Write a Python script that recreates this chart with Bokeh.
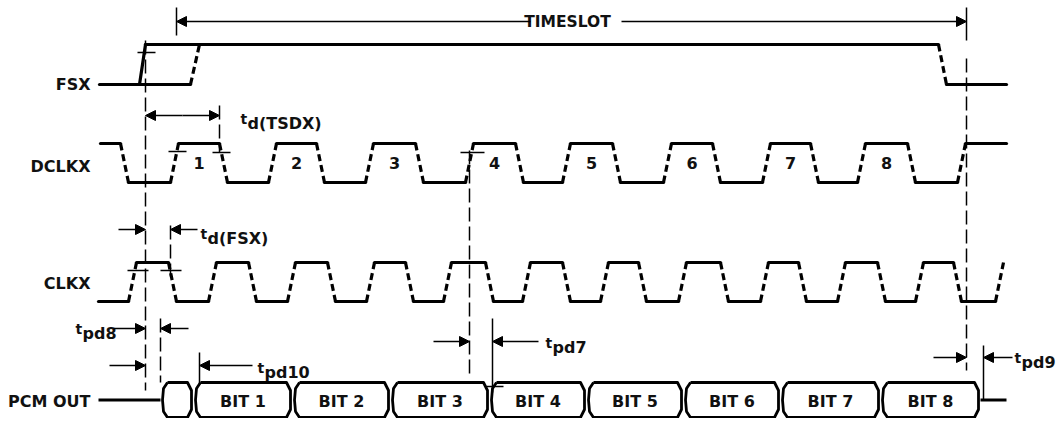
from bokeh.plotting import figure
from bokeh.models import Range1d, Arrow, NormalHead
from bokeh.embed import file_html
from bokeh.resources import INLINE
from bokeh.core.properties import value

# ---------------- data (time axis in diagram units) ----------------
signal_names = ["FSX", "DCLKX", "CLKX", "PCM OUT"]

fsx_rise_early = 139      # solid (earliest) FSX rising edge
fsx_rise_late = 190       # dashed (latest) FSX rising edge
fsx_fall = 938

dclkx_fall = [120, 219, 316, 415, 515, 612, 712, 810, 907]
dclkx_rise = [170, 268, 365, 465, 562, 663, 762, 857, 957]
dclkx_labels = ["1", "2", "3", "4", "5", "6", "7", "8"]

clkx_rise = [128, 208, 287, 366, 443, 522, 600, 678, 760, 837, 915, 995]
clkx_fall = [168, 248, 327, 405, 485, 562, 638, 720, 798, 877, 953]

pcm_bounds = [160, 193, 292, 390, 489, 586, 683, 780, 880, 980]
pcm_labels = ["", "BIT 1", "BIT 2", "BIT 3", "BIT 4", "BIT 5", "BIT 6", "BIT 7", "BIT 8"]

timeslot = [176, 966]
timing_params = ["d(TSDX)", "d(FSX)", "pd8", "pd10", "pd7", "pd9"]

# ---------------- layout constants ----------------
W, H = 1062, 418
T0, T1 = 98, 1006
HI = {"FSX": 44, "DCLKX": 143, "CLKX": 262, "PCM OUT": 382}
LO = {"FSX": 84, "DCLKX": 182, "CLKX": 301, "PCM OUT": 417}
LABEL_Y = {"FSX": 84, "DCLKX": 166, "CLKX": 283, "PCM OUT": 401}
TR = 8  # transition width
FONT = value("DejaVu Sans")
INK = "#111111"

p = figure(width=W, height=H, x_range=Range1d(0, W), y_range=Range1d(H, 0),
           output_backend="svg", toolbar_location=None, min_border=0,
           x_axis_type=None, y_axis_type=None)
p.outline_line_color = None
p.background_fill_color = "white"
p.border_fill_color = "white"
p.xgrid.visible = False
p.ygrid.visible = False

solid_x, solid_y, dash_x, dash_y = [], [], [], []


def waveform(name, start_x, start_high, edges, end_x):
    hi, lo = HI[name], LO[name]
    x, lvl = start_x, (hi if start_high else lo)
    for t, to_high in edges:
        solid_x.append([x, t]); solid_y.append([lvl, lvl])
        new = hi if to_high else lo
        dash_x.append([t, t + TR]); dash_y.append([lvl, new])
        x, lvl = t + TR, new
    if end_x is not None and end_x > x:
        solid_x.append([x, end_x]); solid_y.append([lvl, lvl])


# FSX
solid_x.append([T0 + 1, fsx_rise_late]); solid_y.append([LO["FSX"], LO["FSX"]])
solid_x.append([fsx_rise_early, fsx_rise_early + 6]); solid_y.append([LO["FSX"], HI["FSX"]])
dash_x.append([fsx_rise_late, fsx_rise_late + 9]); dash_y.append([LO["FSX"], HI["FSX"]])
solid_x.append([fsx_rise_early + 6, fsx_fall]); solid_y.append([HI["FSX"], HI["FSX"]])
dash_x.append([fsx_fall, fsx_fall + TR]); dash_y.append([HI["FSX"], LO["FSX"]])
solid_x.append([fsx_fall + TR, T1]); solid_y.append([LO["FSX"], LO["FSX"]])

# DCLKX
ed = sorted([(t, False) for t in dclkx_fall] + [(t, True) for t in dclkx_rise])
waveform("DCLKX", T0 + 2, True, ed, T1)
# CLKX
ec = sorted([(t, True) for t in clkx_rise] + [(t, False) for t in clkx_fall])
waveform("CLKX", T0, False, ec, None)

p.multi_line(solid_x, solid_y, line_color="black", line_width=3.2, line_join="round", line_cap="round")
p.multi_line(dash_x, dash_y, line_color="black", line_width=3.2, line_dash="7 4")

# PCM OUT bus
pm = (HI["PCM OUT"] + LO["PCM OUT"]) / 2
p.multi_line([[T0, pcm_bounds[0]], [pcm_bounds[-1], T1]], [[pm, pm], [pm, pm]],
             line_color="black", line_width=3)
cell_x, cell_y = [], []
hi, lo = HI["PCM OUT"], LO["PCM OUT"]
for a, b in zip(pcm_bounds[:-1], pcm_bounds[1:]):
    a2, b2 = a + 2, b - 2
    cell_x.append([a2 + 5, b2 - 4, b2, b2, b2 - 4, a2 + 5, a2 + 1, a2, a2 + 1, a2 + 5])
    cell_y.append([hi, hi, hi + 8, lo - 8, lo, lo, lo - 6, pm, hi + 6, hi])
p.multi_line(cell_x, cell_y, line_color="black", line_width=2.8, line_join="round")

# labels
p.text(x=[90] * 4, y=[LABEL_Y[n] for n in signal_names], text=signal_names,
       text_font=FONT, text_font_style="bold", text_font_size="16px",
       text_align="right", text_baseline="middle", text_color=INK)
num_x = [(r + f) / 2 + TR / 2 for r, f in zip(dclkx_rise[:8], dclkx_fall[1:])]
p.text(x=num_x, y=[162] * 8, text=dclkx_labels, text_font=FONT, text_font_style="bold",
       text_font_size="16px", text_align="center", text_baseline="middle", text_color=INK)
bit_x = [(a + b) / 2 for a, b in zip(pcm_bounds[:-1], pcm_bounds[1:])]
p.text(x=bit_x[1:], y=[pm + 1] * 8, text=pcm_labels[1:], text_font=FONT, text_font_style="bold",
       text_font_size="16px", text_align="center", text_baseline="middle", text_color=INK)
p.text(x=[(timeslot[0] + timeslot[1]) / 2 - 4], y=[21], text=["TIMESLOT"], text_font=FONT,
       text_font_style="bold", text_font_size="15.5px", text_align="center",
       text_baseline="middle", text_color=INK)

# timing parameter labels: "t" + subscript
t_pos = [(240, 123), (200, 238), (75, 333), (257, 372), (545, 347), (1014, 362)]
p.text(x=[x for x, _ in t_pos], y=[y - 5 for _, y in t_pos], text=["t"] * 6, text_font=FONT,
       text_font_style="bold", text_font_size="14px", text_align="left",
       text_baseline="alphabetic", text_color=INK)
p.text(x=[x + 7 for x, _ in t_pos], y=[y for _, y in t_pos], text=timing_params, text_font=FONT,
       text_font_style="bold", text_font_size="16px", text_align="left",
       text_baseline="alphabetic", text_color=INK)

# vertical reference lines
vs = [(timeslot[0], 7, 35), (timeslot[1], 7, 40), (492, 318, 392), (199, 352, 384), (983, 345, 400)]
p.multi_line([[x, x] for x, _, _ in vs], [[a, b] for _, a, b in vs], line_color="black", line_width=1.5)
vd = [(145, 40, 390), (timeslot[1], 58, 370), (219, 105, 152), (170, 225, 276),
      (160, 318, 382), (469, 150, 373)]
p.multi_line([[x, x] for x, _, _ in vd], [[a, b] for _, a, b in vd], line_color="black",
             line_width=1.5, line_dash="14 5")

# small cross ticks
tk = [(137, 155, 52), (168, 186, 151), (212, 230, 152), (460, 484, 152),
      (127, 148, 270), (160, 181, 270), (486, 503, 386)]
p.segment(x0=[a for a, _, _ in tk], x1=[b for _, b, _ in tk], y0=[y for _, _, y in tk],
          y1=[y for _, _, y in tk], line_color="black", line_width=1.5)


def arrow(x0, x1, y):
    p.add_layout(Arrow(end=NormalHead(size=10, fill_color="black", line_color="black", line_width=1),
                       x_start=x0, y_start=y, x_end=x1, y_end=y, line_width=1.5, line_color="black"))


for a, b, y in [(530, timeslot[0], 21), (621, timeslot[1], 21),
                (182, 145, 115), (182, 219, 115),
                (118, 145, 229), (197, 170, 229),
                (113, 145, 328), (188, 160, 328),
                (109, 145, 365), (252, 199, 365),
                (433, 469, 341), (538, 492, 341),
                (933, 966, 357), (1012, 983, 357)]:
    arrow(a, b, y)

open("out.html", "w").write(file_html(p, INLINE))
